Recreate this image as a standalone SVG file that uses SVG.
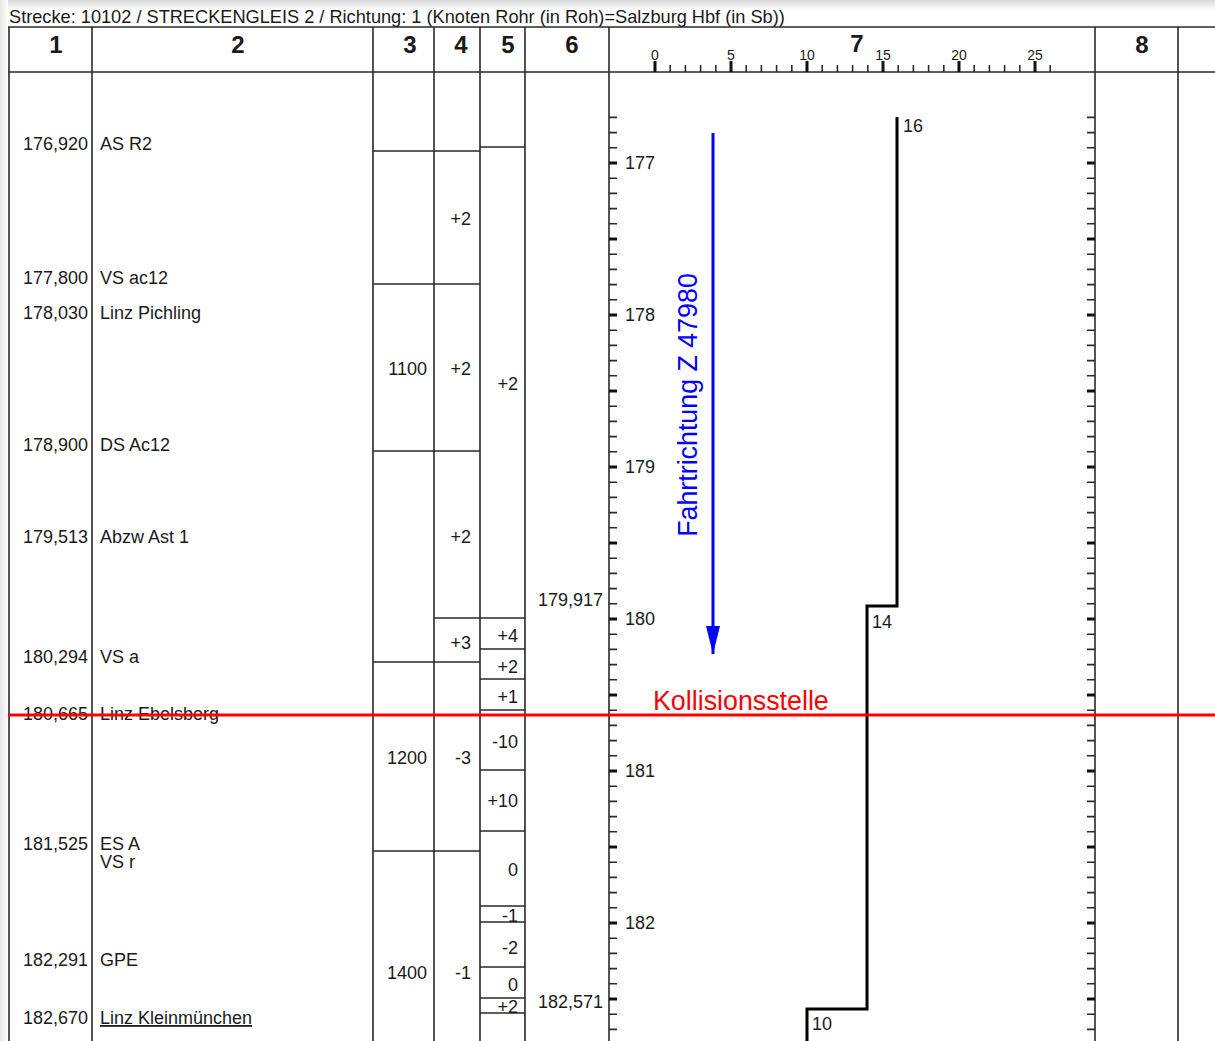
<svg xmlns="http://www.w3.org/2000/svg" width="1215" height="1041" viewBox="0 0 1215 1041">
<defs>
<linearGradient id="shTop" x1="0" y1="0" x2="0" y2="1"><stop offset="0" stop-color="#d8d8d8"/><stop offset="1" stop-color="#ffffff"/></linearGradient>
<linearGradient id="shLeft" x1="0" y1="0" x2="1" y2="0"><stop offset="0" stop-color="#e4e4e4"/><stop offset="1" stop-color="#ffffff"/></linearGradient>
<marker id="arrowBlue" viewBox="0 0 28 14" refX="28" refY="7" markerWidth="28" markerHeight="14" markerUnits="userSpaceOnUse" orient="auto"><path d="M0,0 L28,7 L0,14 Z" fill="#0000ff"/></marker>
</defs>
<style>
text{font-family:"Liberation Sans",Arial,sans-serif;fill:#1a1a1a}
.t{font-size:18px}
.r{font-size:18px;text-anchor:end}
.h{font-size:24px;font-weight:bold;text-anchor:middle}
.sc{font-size:14px;text-anchor:middle}
.grid{stroke:#2a2a2a;stroke-width:1.6;fill:none}
.tick{stroke:#2a2a2a;stroke-width:1.6;fill:none}
.tickM{stroke:#111;stroke-width:3;fill:none}
.prof{stroke:#000;stroke-width:3;fill:none}
</style>
<rect width="1215" height="1041" fill="#ffffff"/>
<rect x="0" y="0" width="1215" height="10" fill="url(#shTop)"/>
<rect x="0" y="0" width="8" height="1041" fill="url(#shLeft)"/>

<text id="title" x="9" y="23" style="font-size:18.2px">Strecke: 10102 / STRECKENGLEIS 2 / Richtung: 1 (Knoten Rohr (in Roh)=Salzburg Hbf (in Sb))</text>

<g id="table-grid" class="grid">
<path d="M8,27 H1215 M8,72 H1215"/>
<path d="M9,27 V1041 M92,27 V1041 M373,27 V1041 M434,27 V1041 M480,27 V1041 M525,27 V1041 M609,27 V1041 M1095,27 V1041 M1178,27 V1041"/>
<path d="M373,151 H480 M373,284 H480 M373,451 H480 M434,618 H525 M373,662 H480 M373,851 H480"/>
<path d="M480,147 H525 M480,649 H525 M480,679 H525 M480,710 H525 M480,770 H525 M480,831 H525 M480,906 H525 M480,922 H525 M480,967 H525 M480,998 H525 M480,1013 H525"/>
</g>

<g id="header">
<text class="h" x="56" y="53">1</text>
<text class="h" x="238" y="53">2</text>
<text class="h" x="410" y="53">3</text>
<text class="h" x="461" y="53">4</text>
<text class="h" x="508" y="53">5</text>
<text class="h" x="572" y="53">6</text>
<text class="h" x="857" y="52">7</text>
<text class="h" x="1142" y="53">8</text>
</g>

<g id="speed-scale">
<path class="tick" d="M670.2,65V72 M685.4,65V72 M700.6,65V72 M715.8,65V72 M746.2,65V72 M761.4,65V72 M776.6,65V72 M791.8,65V72 M822.2,65V72 M837.4,65V72 M852.6,65V72 M867.8,65V72 M898.2,65V72 M913.4,65V72 M928.6,65V72 M943.8,65V72 M974.2,65V72 M989.4,65V72 M1004.6,65V72 M1019.8,65V72 M1050.2,65V72"/>
<path class="tickM" d="M655,61V72 M731,61V72 M807,61V72 M883,61V72 M959,61V72 M1035,61V72"/>
<text class="sc" x="655" y="60">0</text>
<text class="sc" x="731" y="60">5</text>
<text class="sc" x="807" y="60">10</text>
<text class="sc" x="883" y="60">15</text>
<text class="sc" x="959" y="60">20</text>
<text class="sc" x="1035" y="60">25</text>
</g>

<g id="km-axis">
<path id="ticks-left" class="tick" d="M609,117.4h8 M609,132.6h8 M609,147.8h8 M609,178.2h8 M609,193.4h8 M609,208.6h8 M609,223.8h8 M609,254.2h8 M609,269.4h8 M609,284.6h8 M609,299.8h8 M609,330.2h8 M609,345.4h8 M609,360.6h8 M609,375.8h8 M609,406.2h8 M609,421.4h8 M609,436.6h8 M609,451.8h8 M609,482.2h8 M609,497.4h8 M609,512.6h8 M609,527.8h8 M609,558.2h8 M609,573.4h8 M609,588.6h8 M609,603.8h8 M609,634.2h8 M609,649.4h8 M609,664.6h8 M609,679.8h8 M609,710.2h8 M609,725.4h8 M609,740.6h8 M609,755.8h8 M609,786.2h8 M609,801.4h8 M609,816.6h8 M609,831.8h8 M609,862.2h8 M609,877.4h8 M609,892.6h8 M609,907.8h8 M609,938.2h8 M609,953.4h8 M609,968.6h8 M609,983.8h8 M609,1014.2h8 M609,1029.4h8"/>
<path id="ticks-left-major" class="tickM" d="M609,163h8 M609,239h8 M609,315h8 M609,391h8 M609,467h8 M609,543h8 M609,619h8 M609,695h8 M609,771h8 M609,847h8 M609,923h8 M609,999h8"/>
<path id="ticks-right" class="tick" d="M1087,117.4h8 M1087,132.6h8 M1087,147.8h8 M1087,178.2h8 M1087,193.4h8 M1087,208.6h8 M1087,223.8h8 M1087,254.2h8 M1087,269.4h8 M1087,284.6h8 M1087,299.8h8 M1087,330.2h8 M1087,345.4h8 M1087,360.6h8 M1087,375.8h8 M1087,406.2h8 M1087,421.4h8 M1087,436.6h8 M1087,451.8h8 M1087,482.2h8 M1087,497.4h8 M1087,512.6h8 M1087,527.8h8 M1087,558.2h8 M1087,573.4h8 M1087,588.6h8 M1087,603.8h8 M1087,634.2h8 M1087,649.4h8 M1087,664.6h8 M1087,679.8h8 M1087,710.2h8 M1087,725.4h8 M1087,740.6h8 M1087,755.8h8 M1087,786.2h8 M1087,801.4h8 M1087,816.6h8 M1087,831.8h8 M1087,862.2h8 M1087,877.4h8 M1087,892.6h8 M1087,907.8h8 M1087,938.2h8 M1087,953.4h8 M1087,968.6h8 M1087,983.8h8 M1087,1014.2h8 M1087,1029.4h8"/>
<path id="ticks-right-major" class="tickM" d="M1087,163h8 M1087,239h8 M1087,315h8 M1087,391h8 M1087,467h8 M1087,543h8 M1087,619h8 M1087,695h8 M1087,771h8 M1087,847h8 M1087,923h8 M1087,999h8"/>
<text class="t" x="625" y="169">177</text>
<text class="t" x="625" y="321">178</text>
<text class="t" x="625" y="473">179</text>
<text class="t" x="625" y="625">180</text>
<text class="t" x="625" y="777">181</text>
<text class="t" x="625" y="929">182</text>
</g>

<g id="col1-km">
<text class="r" x="88" y="150">176,920</text>
<text class="r" x="88" y="284">177,800</text>
<text class="r" x="88" y="319">178,030</text>
<text class="r" x="88" y="451">178,900</text>
<text class="r" x="88" y="543">179,513</text>
<text class="r" x="88" y="663">180,294</text>
<text class="r" x="88" y="720">180,665</text>
<text class="r" x="88" y="850">181,525</text>
<text class="r" x="88" y="966">182,291</text>
<text class="r" x="88" y="1024">182,670</text>
</g>

<g id="col2-names">
<text class="t" x="100" y="150">AS R2</text>
<text class="t" x="100" y="284">VS ac12</text>
<text class="t" x="100" y="319">Linz Pichling</text>
<text class="t" x="100" y="451">DS Ac12</text>
<text class="t" x="100" y="543">Abzw Ast 1</text>
<text class="t" x="100" y="663">VS a</text>
<text class="t" x="100" y="720">Linz Ebelsberg</text>
<text class="t" x="100" y="850">ES A</text>
<text class="t" x="100" y="868">VS r</text>
<text class="t" x="100" y="966">GPE</text>
<text class="t" x="100" y="1024" text-decoration="underline">Linz Kleinmünchen</text>
</g>

<g id="col3">
<text class="r" x="427" y="375">1100</text>
<text class="r" x="427" y="764">1200</text>
<text class="r" x="427" y="979">1400</text>
</g>

<g id="col4">
<text class="r" x="471" y="225">+2</text>
<text class="r" x="471" y="375">+2</text>
<text class="r" x="471" y="543">+2</text>
<text class="r" x="471" y="649">+3</text>
<text class="r" x="471" y="764">-3</text>
<text class="r" x="471" y="979">-1</text>
</g>

<g id="col5">
<text class="r" x="518" y="390">+2</text>
<text class="r" x="518" y="642">+4</text>
<text class="r" x="518" y="673">+2</text>
<text class="r" x="518" y="703">+1</text>
<text class="r" x="518" y="748">-10</text>
<text class="r" x="518" y="807">+10</text>
<text class="r" x="518" y="876">0</text>
<text class="r" x="518" y="922">-1</text>
<text class="r" x="518" y="954">-2</text>
<text class="r" x="518" y="991">0</text>
<text class="r" x="518" y="1013">+2</text>
</g>

<g id="col6">
<text class="r" x="603" y="606">179,917</text>
<text class="r" x="603" y="1008">182,571</text>
</g>

<g id="speed-profile">
<path class="prof" d="M897,117 V606 H867 V1009 H807 V1041"/>
<text class="t" x="903" y="132">16</text>
<text class="t" x="872" y="628">14</text>
<text class="t" x="812" y="1030">10</text>
</g>

<g id="connectors">
<line id="direction-arrow" x1="713" y1="133" x2="713" y2="654" stroke="#0000ff" stroke-width="3" marker-end="url(#arrowBlue)"/>
<line id="collision-line" x1="8" y1="715" x2="1215" y2="715" stroke="#ff0000" stroke-width="3"/>
</g>

<g id="labels">
<text x="697" y="405" transform="rotate(-90 697 405)" text-anchor="middle" style="font-size:26.8px;fill:#0000ff">Fahrtrichtung Z 47980</text>
<text x="653" y="710" style="font-size:26.8px;fill:#ff0000">Kollisionsstelle</text>
</g>
</svg>
